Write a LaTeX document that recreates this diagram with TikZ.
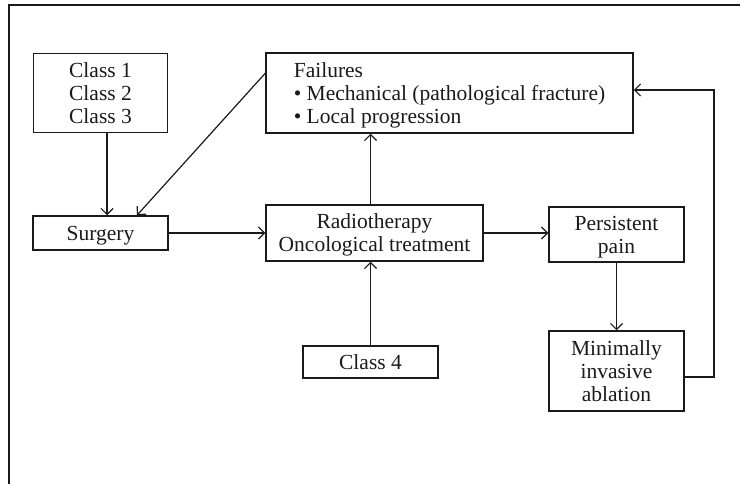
\documentclass[tikz,border=0pt]{standalone}
\usepackage{fontspec}
\setmainfont{Liberation Serif}
\usetikzlibrary{arrows.meta,calc}
\definecolor{ink}{HTML}{1A1A1A}
\begin{document}
\begin{tikzpicture}[x=1pt,y=-1pt,
  box/.style={draw=ink,line width=1.5pt,text=ink,inner sep=0pt,align=center,text depth=0pt,
    font=\fontsize{21.5}{23}\selectfont},
  conn/.style={draw=ink,line width=1.2pt,-{Straight Barb[length=6pt,width=12pt,line width=1.2pt]}}]
\useasboundingbox (0,0) rectangle (740,484);
\draw[ink,line width=1.3pt] (9,484) -- (9,5) -- (740,5);
\node[box,minimum width=134,minimum height=79] (c123) at (100.5,93) {Class 1\\Class 2\\Class 3};
\node[box,minimum width=135,minimum height=34] (surg) at (100.5,233) {Surgery};
\node[box,minimum width=367,minimum height=80,align=left] (fail) at (449.5,93)
  {Failures\\\textbullet\ Mechanical (pathological fracture)\\\textbullet\ Local progression};
\node[box,minimum width=217,minimum height=56] (radio) at (374.5,233) {Radiotherapy\\Oncological treatment};
\node[box,minimum width=135,minimum height=55] (pain) at (616.5,234.5) {Persistent\\pain};
\node[box,minimum width=135,minimum height=32] (c4) at (370.5,362) {Class 4};
\node[box,minimum width=135,minimum height=80] (abl) at (616.5,371) {Minimally\\invasive\\ablation};
\coordinate (corner1) at (714,377);
\coordinate (corner2) at (714,90);
\draw[conn] ($(c123.south)+(6.5,0)$) -- ($(surg.north)+(6.5,0)$);
\draw[conn] ($(fail.north west)+(0,21)$) -- ($(surg.north)+(36.5,0)$);
\draw[conn] (surg.east) -- (surg.east -| radio.west);
\draw[conn] (radio.east |- surg.east) -- (radio.east -| pain.west);
\draw[conn] (c4.north) -- (c4.north |- radio.south);
\draw[conn] (c4.north |- radio.north) -- (c4.north |- fail.south);
\draw[conn] (pain.south) -- (abl.north);
\draw[conn] (abl.east |- corner1) -- (corner1) -- (corner2) -- (corner2 -| fail.east);
\end{tikzpicture}
\end{document}
